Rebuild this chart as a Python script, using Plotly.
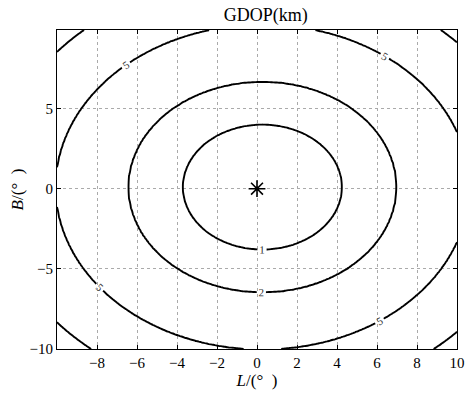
import numpy as np
import plotly.graph_objects as go

# GDOP contour levels (km) and their measured radii along the L axis (deg)
gdop_levels = [1, 2, 5, 10]
level_radii = [3.98, 6.71, 10.35, 13.4]
# centre of the contour family and the B-axis compression of the rings
centre_L, centre_B = 0.27, 0.10
b_scale = 0.98

# station position
station_L = [0.0]
station_B = [0.0]

x_ticks = [-8, -6, -4, -2, 0, 2, 4, 6, 8, 10]
y_ticks = [-10, -5, 0, 5]

# grid of GDOP values on the L/B plane
L = np.linspace(-10, 10, 201)
B = np.linspace(-10, 9.9, 200)
LL, BB = np.meshgrid(L, B)
R = np.sqrt((LL - centre_L) ** 2 + ((BB - centre_B) / b_scale) ** 2)
knots_r = [0.0] + level_radii
knots_z = [0.0] + gdop_levels
slope = (knots_z[-1] - knots_z[-2]) / (knots_r[-1] - knots_r[-2])
knots_r.append(knots_r[-1] + 10)
knots_z.append(knots_z[-1] + 10 * slope)
Z = np.interp(R, knots_r, knots_z)

serif = "Liberation Serif, Times New Roman, serif"
fig = go.Figure()

for lvl in gdop_levels:
    fig.add_trace(go.Contour(
        x=L, y=B, z=Z,
        contours=dict(start=lvl, end=lvl, size=1, coloring="lines",
                      showlabels=True,
                      labelfont=dict(size=11, color="#333", family=serif)),
        line=dict(color="black", width=1.9),
        colorscale=[[0, "black"], [1, "black"]],
        showscale=False, hoverinfo="skip",
    ))

fig.add_trace(go.Scatter(
    x=station_L, y=station_B, mode="markers",
    marker=dict(symbol="asterisk-open", size=14, color="black",
                line=dict(color="black", width=1.6)),
    showlegend=False,
))

axis_common = dict(
    showgrid=True, gridcolor="#aaa", griddash="dot", gridwidth=1,
    showline=True, linecolor="black", linewidth=1, mirror="ticks",
    ticks="inside", ticklen=4, tickcolor="black",
    tickfont=dict(family=serif, size=15, color="black"),
    zeroline=False,
)

fig.update_layout(
    width=473, height=399,
    margin=dict(l=57, r=8, t=30, b=50),
    paper_bgcolor="white", plot_bgcolor="white",
    title=dict(text="GDOP(km)", x=0.562, xanchor="center", y=0.962, yanchor="middle",
               font=dict(family=serif, size=18, color="black")),
    xaxis=dict(axis_common, range=[-10, 10], tickvals=x_ticks,
               title=dict(text="<i>L</i>/(°\u00a0\u00a0)", standoff=4,
                          font=dict(family=serif, size=17, color="black"))),
    yaxis=dict(axis_common, range=[-10, 9.9], tickvals=y_ticks,
               title=dict(text="<i>B</i>/(°\u00a0\u00a0)", standoff=1,
                          font=dict(family=serif, size=17, color="black"))),
    showlegend=False,
)

fig.write_html("out.html")
